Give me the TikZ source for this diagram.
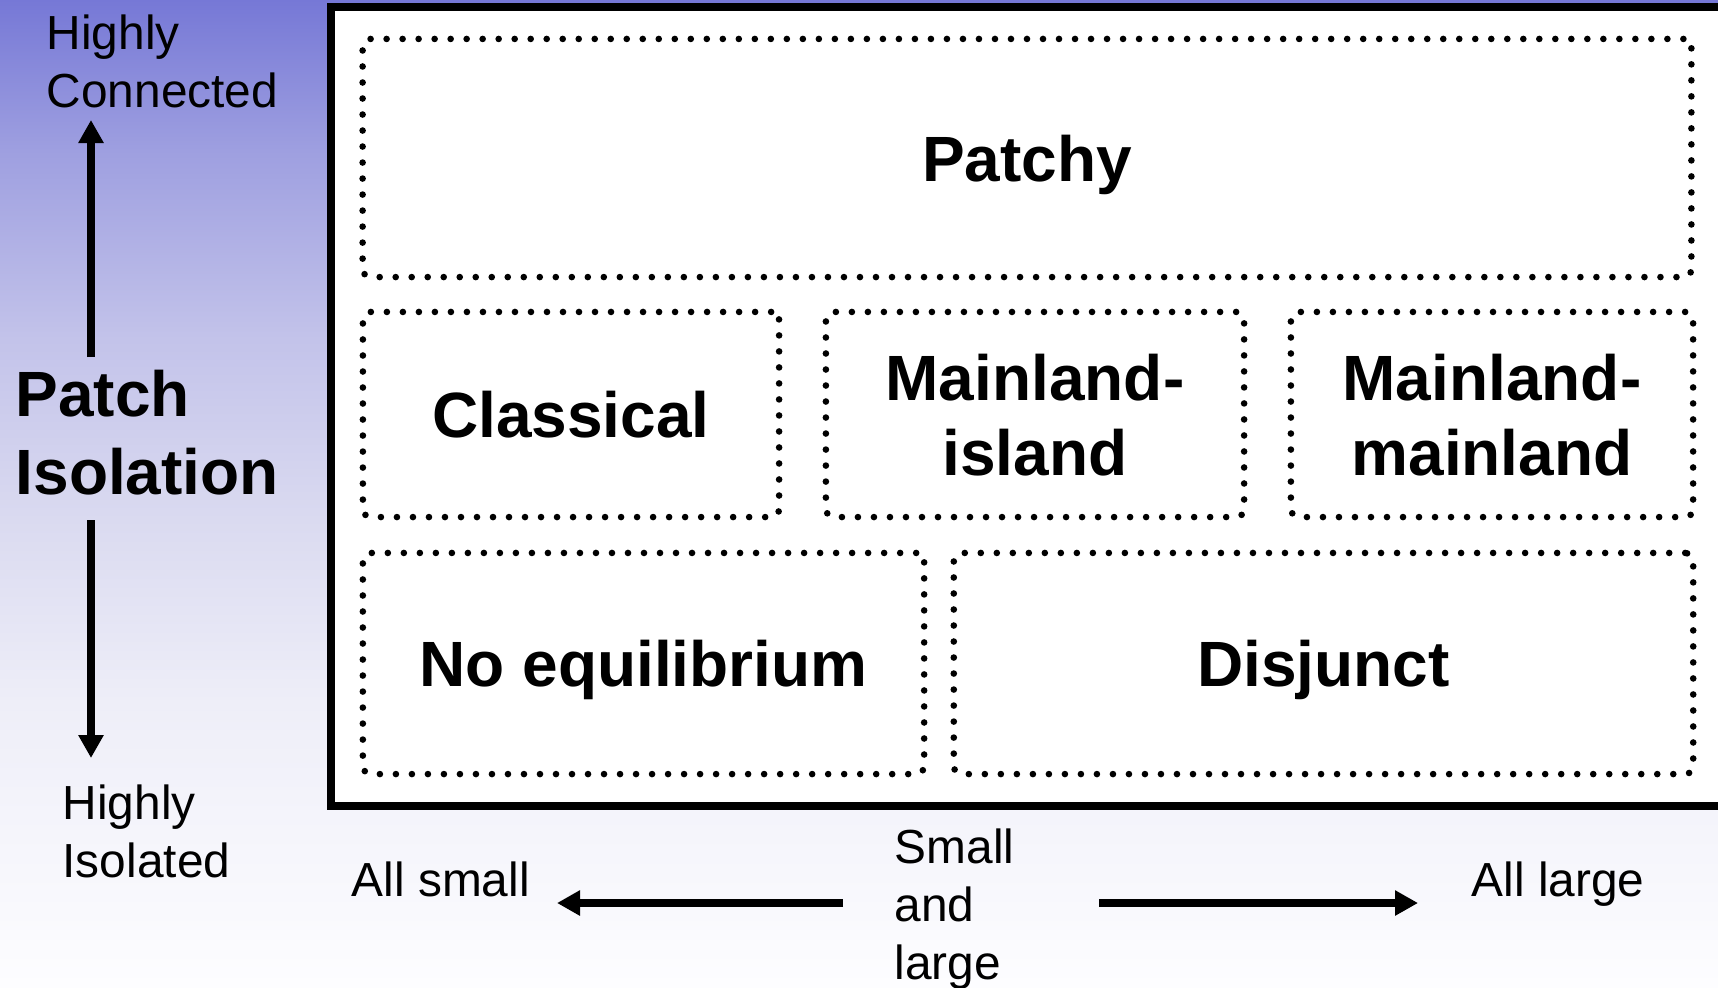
\documentclass[tikz,border=0pt]{standalone}
\usepackage{fontspec}
\setmainfont{Liberation Sans}
\usetikzlibrary{arrows.meta, positioning}

\definecolor{bgtop}{RGB}{118,120,214}
\definecolor{bgone}{RGB}{158,159,224}
\definecolor{bgtwo}{RGB}{195,195,234}
\definecolor{bgthree}{RGB}{218,218,240}
\definecolor{bgfour}{RGB}{238,238,248}
\definecolor{bgbot}{RGB}{253,253,255}
\pgfdeclareverticalshading{patchbg}{100bp}{color(0bp)=(bgbot); color(25bp)=(bgbot); color(39.5bp)=(bgfour); color(48.7bp)=(bgthree); color(57.8bp)=(bgtwo); color(67.4bp)=(bgone); color(75bp)=(bgtop); color(100bp)=(bgtop)}

\newcommand{\zonefont}{\fontsize{18.2pt}{21.3pt}\selectfont\bfseries}
\newcommand{\titlefont}{\fontsize{18.2pt}{22.2pt}\selectfont\bfseries}
\newcommand{\notefont}{\fontsize{13.6pt}{16.5pt}\selectfont}

\begin{document}
\begin{tikzpicture}[x=0.01cm, y=-0.01cm,
    zone/.style={draw, line width=0.066cm, dash pattern=on 0pt off 0.16cm, line cap=round,
      rounded corners=0.08cm, font=\zonefont, align=center, text depth=0pt},
    note/.style={inner sep=0pt, font=\notefont, align=left},
    scalearrow/.style={-{Triangle[length=0.23cm, width=0.24cm]}, line width=0.08cm}]
  \useasboundingbox (0,0) rectangle (1718,987);
  \clip (0,0) rectangle (1718,987);
  \shade[shading=patchbg] (0,0) rectangle (1718,987);
  \draw[line width=0.08cm, fill=white] (331,7) rectangle (1760,806);

  \node[zone, minimum width=13.28cm, minimum height=2.38cm] (patchy) at (1027,158) {Patchy};
  \node[zone, minimum width=4.16cm, minimum height=2.05cm] (classical) at (571,414.5) {Classical};
  \node[zone, minimum width=4.18cm, minimum height=2.05cm] (mainisl) at (1035,414.5) {Mainland-\\island};
  \node[zone, minimum width=4.02cm, minimum height=2.05cm] (mainmain) at (1492,414.5) {Mainland-\\mainland};
  \node[zone, minimum width=5.61cm, minimum height=2.21cm] (noeq) at (643.5,663.5) {No equilibrium};
  \node[zone, minimum width=7.39cm, minimum height=2.21cm] (disjunct) at (1323.5,663.5) {Disjunct};

  \node[note, anchor=north west] (conntext) at (46,14) {Highly\\Connected};
  \node[note, anchor=north west, font=\titlefont] (isoltext) at (15,369) {Patch\\Isolation};
  \node[note, anchor=north west] (isolatedtext) at (62,784) {Highly\\Isolated};
  \node[note, anchor=base west] (smalltext) at (351,896) {All small};
  \node[note, anchor=north west] (mixtext) at (894,828) {Small\\and\\large};
  \node[note, anchor=base west] (largetext) at (1471,896) {All large};

  \coordinate (conn) at (91,120);
  \coordinate (isolup) at (91,357);
  \coordinate (isoldown) at (91,520);
  \coordinate (isolend) at (91,758);
  \coordinate (smallend) at (557,903);
  \coordinate (mixleft) at (843,903);
  \coordinate (mixright) at (1099,903);
  \coordinate (largeend) at (1418,903);

  \draw[scalearrow] (isolup) -- (conn);
  \draw[scalearrow] (isoldown) -- (isolend);
  \draw[scalearrow] (mixleft) -- (smallend);
  \draw[scalearrow] (mixright) -- (largeend);
\end{tikzpicture}
\end{document}
